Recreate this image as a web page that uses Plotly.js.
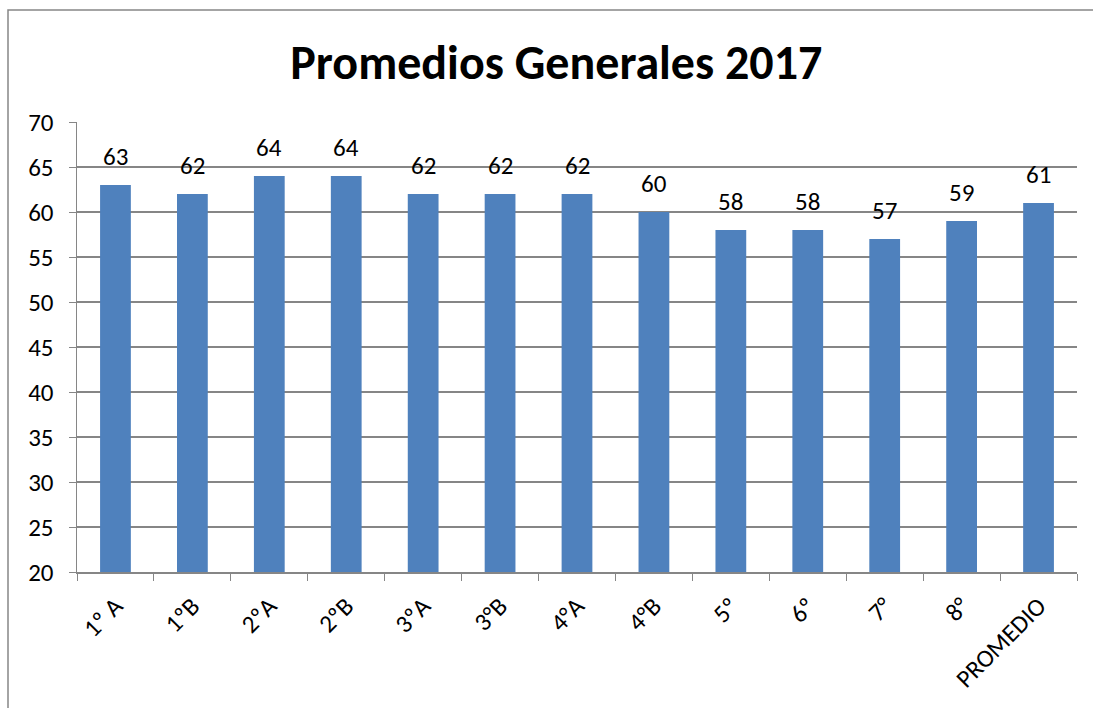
<!DOCTYPE html>
<html>
<head>
<meta charset="utf-8">
<script src="https://cdn.plot.ly/plotly-3.0.1.min.js"></script>
<style>html,body{margin:0;padding:0;background:#fff;}#chart{width:1093px;height:708px;}</style>
</head>
<body>
<div id="chart"></div>
<script>
const categories = ["1º A", "1ºB", "2ºA", "2ºB", "3ºA", "3°B", "4°A", "4°B", "5º", "6º", "7°", "8°", "PROMEDIO"];
const values = [63, 62, 64, 64, 62, 62, 62, 60, 58, 58, 57, 59, 61];
const valueLabels = ["63", "62", "64", "64", "62", "62", "62", "60", "58", "58", "57", "59", "61"];
const yTicks = [20, 25, 30, 35, 40, 45, 50, 55, 60, 65, 70];
const chartTitle = "Promedios Generales 2017";

const font = "Carlito, 'Liberation Sans', 'Open Sans', sans-serif";

const trace = {
  type: "bar",
  x: categories,
  y: values,
  marker: {color: "#4F81BD"},
  hoverinfo: "x+y"
};

const annotations = categories.map((c, i) => ({
  x: c,
  y: values[i],
  xref: "x",
  yref: "y",
  text: valueLabels[i],
  showarrow: false,
  yanchor: "bottom",
  yshift: 11,
  font: {family: font, size: 25, color: "#000"}
}));

const layout = {
  width: 1093,
  height: 708,
  margin: {l: 77, r: 16, t: 122, b: 136},
  paper_bgcolor: "#fff",
  plot_bgcolor: "#fff",
  showlegend: false,
  bargap: 0.6,
  title: {
    text: "<b>" + chartTitle + "</b>",
    font: {family: font, size: 48, color: "#000"},
    x: 0.509, xanchor: "center",
    y: 0.912, yanchor: "middle"
  },
  xaxis: {
    type: "category",
    tickangle: -45,
    tickfont: {family: font, size: 25, color: "#000"},
    showline: true,
    linecolor: "#868686",
    linewidth: 1.5,
    ticks: "outside",
    tickson: "boundaries",
    ticklen: 7,
    tickcolor: "#868686",
    ticklabelstandoff: 8,
    showgrid: false,
    automargin: false
  },
  yaxis: {
    range: [20, 70],
    tickvals: yTicks,
    ticktext: yTicks.map(String),
    tickfont: {family: font, size: 25, color: "#000"},
    showline: true,
    linecolor: "#868686",
    linewidth: 1.5,
    ticks: "outside",
    ticklen: 7,
    tickcolor: "#868686",
    ticklabelstandoff: 10,
    showgrid: true,
    gridcolor: "#868686",
    gridwidth: 1.2,
    zeroline: false,
    automargin: false
  },
  annotations: annotations,
  shapes: [{
    type: "rect",
    xref: "paper", yref: "paper",
    x0: -0.069, x1: 1.05, y0: -0.35, y1: 1.249,
    line: {color: "#868686", width: 1.5},
    fillcolor: "rgba(0,0,0,0)",
    layer: "below"
  }]
};

Plotly.newPlot("chart", [trace], layout, {staticPlot: true, displayModeBar: false});
</script>
</body>
</html>
